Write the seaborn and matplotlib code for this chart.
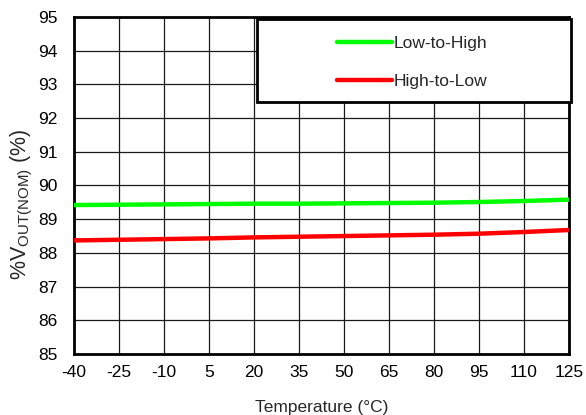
import pandas as pd
import seaborn as sns
import matplotlib.pyplot as plt
from matplotlib.patches import Rectangle

# data
temperature = [-40, -25, -10, 5, 20, 35, 50, 65, 80, 95, 110, 125]
low_to_high = [89.42, 89.43, 89.44, 89.45, 89.46, 89.46, 89.47, 89.48, 89.49, 89.51, 89.54, 89.58]
high_to_low = [88.37, 88.39, 88.41, 88.43, 88.46, 88.48, 88.50, 88.52, 88.54, 88.57, 88.62, 88.68]
series_names = ['Low-to-High', 'High-to-Low']
series_colors = ['#00ff00', '#ff0000']
y_ticks = list(range(85, 96))

df = pd.concat([
    pd.DataFrame({'temp': temperature, 'value': low_to_high, 'series': series_names[0]}),
    pd.DataFrame({'temp': temperature, 'value': high_to_low, 'series': series_names[1]}),
])

sns.set_style('white')
plt.rcParams['font.family'] = ['Liberation Sans', 'DejaVu Sans']
plt.rcParams['mathtext.fontset'] = 'custom'
plt.rcParams['mathtext.rm'] = 'Liberation Sans'
plt.rcParams['axes.unicode_minus'] = False

fs = 12.5

fig = plt.figure(figsize=(5.86, 4.15), dpi=100)
ax = fig.add_axes([74 / 586, 1 - 354 / 415, (569 - 74) / 586, (354 - 17) / 415])

sns.lineplot(data=df, x='temp', y='value', hue='series', hue_order=series_names,
             palette=series_colors, linewidth=3.2, ax=ax, legend=True, zorder=3)

ax.set_xlim(-40, 125)
ax.set_ylim(85, 95)
ax.set_xticks(temperature)
ax.set_yticks(y_ticks)
ax.grid(True, color='#1a1a1a', linewidth=0.9)
ax.set_axisbelow(True)
for sp in ax.spines.values():
    sp.set_visible(True)
    sp.set_color('black')
    sp.set_linewidth(2)
ax.tick_params(axis='x', length=0, pad=8, labelsize=fs, colors='black')
ax.tick_params(axis='y', length=0, pad=12, labelsize=fs, colors='black')

ax.set_xlabel('Temperature (°C)', fontsize=fs, labelpad=14)
ax.set_ylabel(r'%V$_{\mathregular{OUT(NOM)}}$ (%)', fontsize=15.5)
ax.yaxis.set_label_coords(-39 / 495, 1 - (204 - 17) / 337)

# legend box
fig.patches.append(Rectangle((257 / 586, 1 - 102 / 415), (571 - 257) / 586, (102 - 19) / 415,
                             transform=fig.transFigure, facecolor='white',
                             edgecolor='black', linewidth=2, zorder=5))
handles, labels = ax.get_legend_handles_labels()
leg = fig.legend(handles, labels, loc='center', bbox_to_anchor=(412 / 586, 1 - 62.5 / 415),
                 frameon=False, fontsize=fs, handlelength=3.2, handletextpad=0.1,
                 labelspacing=1.35)
leg.set_zorder(6)
for line in leg.get_lines():
    line.set_linewidth(3.2)
ax.get_legend().remove()

fig.savefig('out.png', dpi=100)
